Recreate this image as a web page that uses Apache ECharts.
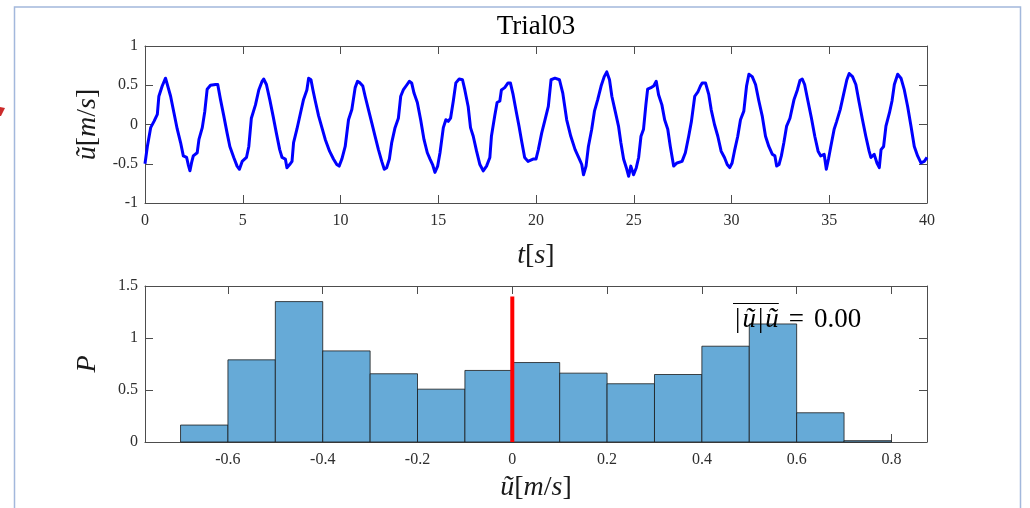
<!DOCTYPE html>
<html><head><meta charset="utf-8">
<script src="https://cdn.jsdelivr.net/npm/echarts@6/dist/echarts.min.js"></script>
<style>html,body{margin:0;padding:0;background:#fff}#c{width:1030px;height:508px}</style>
</head><body><div id="c"></div>
<script>
// ---------- data ----------
const chartTitle = 'Trial03';
const timeRange = [0, 40];
const velRange = [-1, 1];
// [t (s), u~ (m/s)]
const velocitySeries = [
[0,-0.50],[0.12,-0.28],[0.29,-0.04],[0.46,0.04],[0.63,0.13],[0.71,0.36],[0.88,0.49],[1.05,0.59],[1.14,0.57],[1.31,0.36],[1.48,0.15],[1.65,-0.06],[1.82,-0.23],[1.96,-0.40],[2.13,-0.42],[2.21,-0.51],[2.30,-0.59],[2.38,-0.49],[2.47,-0.40],[2.67,-0.36],[2.76,-0.19],[2.93,-0.04],[3.06,0.17],[3.18,0.45],[3.35,0.50],[3.61,0.51],[3.72,0.51],[3.86,0.32],[4.03,0.11],[4.20,-0.11],[4.34,-0.28],[4.54,-0.42],[4.71,-0.53],[4.83,-0.57],[4.97,-0.47],[5.19,-0.42],[5.31,-0.28],[5.44,0.08],[5.65,0.25],[5.82,0.44],[5.99,0.55],[6.07,0.58],[6.21,0.51],[6.38,0.32],[6.55,0.11],[6.72,-0.11],[6.89,-0.32],[7.01,-0.42],[7.18,-0.44],[7.26,-0.55],[7.40,-0.51],[7.52,-0.47],[7.60,-0.23],[7.77,-0.06],[7.94,0.13],[8.11,0.32],[8.28,0.44],[8.37,0.59],[8.49,0.57],[8.59,0.44],[8.71,0.30],[8.88,0.11],[9.05,-0.04],[9.22,-0.19],[9.44,-0.34],[9.64,-0.44],[9.81,-0.51],[9.93,-0.53],[10.07,-0.44],[10.24,-0.28],[10.41,0.06],[10.58,0.19],[10.75,0.47],[10.87,0.55],[11.0,0.53],[11.14,0.49],[11.26,0.36],[11.43,0.19],[11.6,0.02],[11.77,-0.15],[11.94,-0.32],[12.11,-0.47],[12.24,-0.57],[12.36,-0.55],[12.50,-0.44],[12.62,-0.23],[12.79,-0.04],[12.96,0.08],[13.08,0.36],[13.21,0.44],[13.38,0.50],[13.52,0.55],[13.64,0.53],[13.76,0.40],[13.93,0.28],[14.10,0.06],[14.27,-0.19],[14.44,-0.36],[14.58,-0.44],[14.71,-0.51],[14.83,-0.61],[14.97,-0.53],[15.09,-0.36],[15.26,-0.04],[15.39,0.06],[15.51,0.04],[15.63,0.08],[15.77,0.30],[15.90,0.53],[16.07,0.58],[16.24,0.57],[16.36,0.44],[16.53,0.23],[16.65,-0.04],[16.79,-0.15],[16.96,-0.34],[17.13,-0.51],[17.30,-0.59],[17.47,-0.53],[17.64,-0.42],[17.72,-0.15],[17.89,0.11],[18.01,0.28],[18.15,0.30],[18.23,0.44],[18.40,0.47],[18.57,0.53],[18.69,0.53],[18.83,0.38],[19.0,0.15],[19.13,-0.02],[19.25,-0.19],[19.42,-0.42],[19.59,-0.47],[19.85,-0.44],[20.0,-0.44],
[20.12,-0.32],[20.29,-0.11],[20.46,0.06],[20.63,0.23],[20.77,0.57],[20.97,0.59],[21.20,0.57],[21.37,0.40],[21.57,0.06],[21.78,-0.15],[22.0,-0.32],[22.22,-0.44],[22.34,-0.51],[22.43,-0.64],[22.56,-0.53],[22.68,-0.28],[22.85,-0.06],[22.99,0.17],[23.16,0.32],[23.33,0.49],[23.49,0.61],[23.62,0.67],[23.76,0.57],[23.88,0.36],[24.05,0.17],[24.22,-0.02],[24.34,-0.23],[24.48,-0.44],[24.62,-0.55],[24.74,-0.66],[24.85,-0.53],[24.99,-0.64],[25.13,-0.55],[25.25,-0.42],[25.37,-0.15],[25.50,-0.06],[25.62,0.25],[25.71,0.45],[25.88,0.47],[26.02,0.49],[26.15,0.55],[26.27,0.38],[26.44,0.25],[26.58,0.06],[26.74,-0.06],[26.87,-0.28],[27.04,-0.53],[27.21,-0.49],[27.47,-0.47],[27.64,-0.36],[27.81,-0.15],[27.95,0.04],[28.12,0.36],[28.29,0.42],[28.41,0.49],[28.50,0.53],[28.67,0.53],[28.84,0.38],[28.96,0.19],[29.13,0.0],[29.30,-0.15],[29.47,-0.34],[29.64,-0.42],[29.78,-0.51],[29.91,-0.55],[30.03,-0.49],[30.15,-0.34],[30.32,-0.15],[30.46,0.06],[30.63,0.17],[30.77,0.49],[30.89,0.64],[31.06,0.61],[31.23,0.51],[31.40,0.30],[31.57,0.11],[31.74,-0.15],[31.91,-0.28],[32.09,-0.38],[32.22,-0.40],[32.31,-0.53],[32.43,-0.51],[32.55,-0.40],[32.68,-0.23],[32.82,-0.02],[32.99,0.08],[33.20,0.32],[33.37,0.44],[33.50,0.56],[33.62,0.58],[33.74,0.51],[33.91,0.30],[34.09,0.08],[34.26,-0.15],[34.43,-0.34],[34.56,-0.40],[34.74,-0.38],[34.85,-0.57],[34.96,-0.44],[35.08,-0.28],[35.25,-0.06],[35.38,0.04],[35.56,0.19],[35.73,0.38],[35.90,0.57],[36.02,0.65],[36.19,0.61],[36.36,0.51],[36.53,0.28],[36.70,0.06],[36.87,-0.15],[37.04,-0.34],[37.13,-0.42],[37.30,-0.38],[37.44,-0.49],[37.56,-0.55],[37.65,-0.32],[37.78,-0.28],[37.90,-0.02],[38.08,0.15],[38.21,0.30],[38.33,0.51],[38.50,0.64],[38.67,0.59],[38.84,0.44],[39.01,0.23],[39.18,-0.02],[39.35,-0.28],[39.52,-0.40],[39.69,-0.49],[39.86,-0.47],[40.0,-0.42]
];
const histEdges = [-0.7,-0.6,-0.5,-0.4,-0.3,-0.2,-0.1,0,0.1,0.2,0.3,0.4,0.5,0.6,0.7,0.8];
const histProb = [0.163,0.79,1.35,0.876,0.656,0.508,0.688,0.764,0.662,0.56,0.649,0.921,1.135,0.281,0.013];
const histXRange = [-0.775, 0.875];
const histXTicks = [-0.6,-0.4,-0.2,0,0.2,0.4,0.6,0.8];
const histYRange = [0, 1.5];
const meanValue = 0;
const meanLineTop = 1.4;
const meanText = '0.00';

// ---------- styles ----------
const FONT = 'Liberation Serif';
const AX = '#4d4d4d';
const LBL = '#2e2e2e';
const NS = 28;
const nameRich = {
  i: {fontFamily: FONT, fontStyle: 'italic', fontSize: NS, color: '#1a1a1a'},
  n: {fontFamily: FONT, fontSize: NS, color: '#1a1a1a'}
};
const uName = '{i|ũ}{n|[}{i|m}{n|/}{i|s}{n|]}';
const tickFont = {fontFamily: FONT, fontSize: 16, color: LBL};

function baseAxis(extra) {
  return Object.assign({
    axisLine: {show: true, onZero: false, lineStyle: {color: AX, width: 1}},
    axisTick: {show: true, inside: true, length: 8, lineStyle: {color: AX}},
    axisLabel: tickFont,
    splitLine: {show: false}
  }, extra);
}
function mirrorAxis(extra) {
  return baseAxis(Object.assign({axisLabel: {show: false}}, extra));
}

const chart = echarts.init(document.getElementById('c'), null, {renderer: 'canvas'});

// annotation geometry (text metrics)
const AF = 27, BARPAD = 2;
const cv = document.createElement('canvas').getContext('2d');
cv.font = AF + 'px "' + FONT + '"'; const wBar = cv.measureText('|').width;
cv.font = 'italic ' + AF + 'px "' + FONT + '"'; const wU = cv.measureText('ũ').width;
const annX = 733, annY = 320;
const overW = 2 * (wBar + 2 * BARPAD) + 2 * wU;

chart.setOption({
  backgroundColor: '#ffffff',
  animation: false,
  textStyle: {fontFamily: FONT},
  grid: [
    {left: 145, top: 46, width: 782, height: 157},
    {left: 145, top: 286, width: 782, height: 156}
  ],
  xAxis: [
    baseAxis({type: 'value', gridIndex: 0, position: 'bottom', min: timeRange[0], max: timeRange[1], interval: 5,
      axisLabel: Object.assign({margin: 10}, tickFont),
      name: '{i|t}{n|[}{i|s}{n|]}', nameLocation: 'middle', nameGap: 39, nameTextStyle: {rich: nameRich}}),
    mirrorAxis({type: 'value', gridIndex: 0, position: 'top', min: timeRange[0], max: timeRange[1], interval: 5}),
    baseAxis({type: 'value', gridIndex: 1, position: 'bottom', min: histXRange[0], max: histXRange[1],
      axisTick: {show: true, inside: true, length: 8, lineStyle: {color: AX}, customValues: histXTicks},
      axisLabel: Object.assign({margin: 10, customValues: histXTicks}, tickFont),
      name: uName, nameLocation: 'middle', nameGap: 32, nameTextStyle: {rich: nameRich}}),
    mirrorAxis({type: 'value', gridIndex: 1, position: 'top', min: histXRange[0], max: histXRange[1],
      axisTick: {show: true, inside: true, length: 8, lineStyle: {color: AX}, customValues: histXTicks},
      axisLabel: {show: false, customValues: histXTicks}})
  ],
  yAxis: [
    baseAxis({type: 'value', gridIndex: 0, position: 'left', min: velRange[0], max: velRange[1], interval: 0.5,
      axisLabel: Object.assign({margin: 7}, tickFont),
      name: uName, nameLocation: 'middle', nameGap: 43, nameRotate: 90, nameTextStyle: {rich: nameRich}}),
    mirrorAxis({type: 'value', gridIndex: 0, position: 'right', min: velRange[0], max: velRange[1], interval: 0.5}),
    baseAxis({type: 'value', gridIndex: 1, position: 'left', min: histYRange[0], max: histYRange[1], interval: 0.5,
      axisLabel: Object.assign({margin: 7}, tickFont),
      name: '{i|P}', nameLocation: 'middle', nameGap: 43, nameRotate: 90, nameTextStyle: {rich: nameRich}}),
    mirrorAxis({type: 'value', gridIndex: 1, position: 'right', min: histYRange[0], max: histYRange[1], interval: 0.5})
  ],
  series: [
    {type: 'line', xAxisIndex: 0, yAxisIndex: 0, data: velocitySeries, showSymbol: false, symbol: 'none',
      lineStyle: {color: '#0000ff', width: 3, join: 'round'}, z: 3},
    {type: 'custom', xAxisIndex: 2, yAxisIndex: 2,
      data: histProb.map((p, i) => [histEdges[i], histEdges[i + 1], p]),
      encode: {x: [0, 1], y: 2},
      renderItem: function (params, api) {
        const p0 = api.coord([api.value(0), 0]);
        const p1 = api.coord([api.value(1), api.value(2)]);
        return {type: 'rect', shape: {x: p0[0], y: p1[1], width: p1[0] - p0[0], height: p0[1] - p1[1]},
          style: {fill: '#66aad7', stroke: '#1a1a1a', lineWidth: 0.8}};
      }, z: 2},
    {type: 'line', xAxisIndex: 2, yAxisIndex: 2, data: [[meanValue, 0], [meanValue, meanLineTop]],
      showSymbol: false, symbol: 'none', lineStyle: {color: '#ff0000', width: 4, cap: 'butt'}, z: 4}
  ],
  graphic: [
    {type: 'rect', shape: {x: 14.5, y: 7, width: 1006, height: 520}, style: {fill: null, stroke: '#a3b8dc', lineWidth: 1.5}, silent: true},
    {type: 'polygon', shape: {points: [[0, 107], [5, 108], [1, 116], [0, 116]]}, style: {fill: '#cc2b2b'}, silent: true},
    {type: 'text', x: 536, y: 27, style: {text: chartTitle, align: 'center', verticalAlign: 'middle',
      fontFamily: FONT, fontSize: 27, fill: '#000'}},
    {type: 'text', x: annX, y: annY, z: 10,
      style: {text: '{b||}{i|ũ}{b||}{i|ũ}{e|=}{n|' + meanText + '}', verticalAlign: 'middle', align: 'left',
        rich: {
          n: {fontFamily: FONT, fontSize: AF, fill: '#000'},
          b: {fontFamily: FONT, fontSize: AF, fill: '#000', padding: [0, BARPAD]},
          e: {fontFamily: FONT, fontSize: AF, fill: '#000', padding: [0, 10]},
          i: {fontFamily: FONT, fontStyle: 'italic', fontSize: AF, fill: '#000'}}}},
    {type: 'line', z: 10, shape: {x1: annX, y1: 303.5, x2: annX + overW, y2: 303.5}, style: {stroke: '#000', lineWidth: 1}}
  ]
});
</script>
</body></html>
